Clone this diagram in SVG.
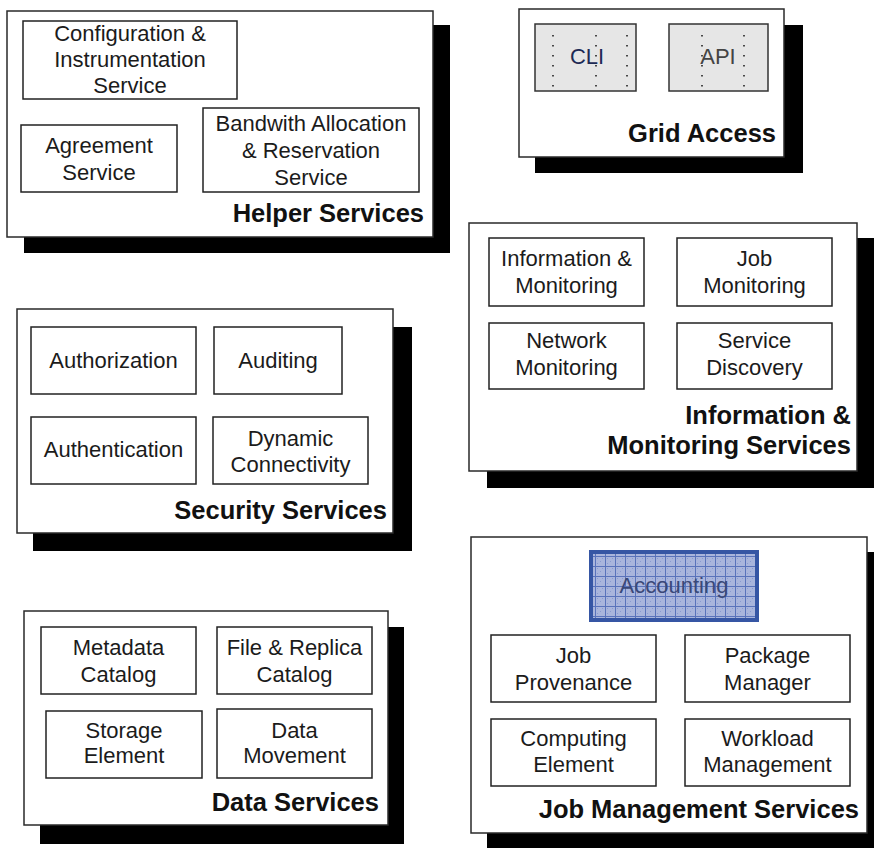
<svg xmlns="http://www.w3.org/2000/svg" width="874" height="848" viewBox="0 0 874 848">
<defs>
<pattern id="grid" width="10" height="10" patternUnits="userSpaceOnUse" x="595" y="556">
<rect width="10" height="10" fill="#a9b5dc"/>
<rect x="2" y="2" width="1" height="1" fill="#8a9bd0"/>
<rect x="5" y="5" width="1" height="1" fill="#8a9bd0"/>
<rect x="2" y="7" width="1" height="1" fill="#8a9bd0"/>
<rect x="7" y="2" width="1" height="1" fill="#8a9bd0"/>
<path d="M0 0.5H10M0.5 0V10" stroke="#5a73bb" stroke-width="1" fill="none"/>
</pattern>
</defs>
<style>
.shadow{fill:#000}
.outer{fill:#fff;stroke:#2a2a2a;stroke-width:1.5}
.box{fill:#fff;stroke:#222;stroke-width:1.5}
.gbox{fill:#e6e6e6;stroke:#333;stroke-width:1.5}
.dots{stroke:#222;stroke-width:1.6;stroke-dasharray:1.6 8.4;fill:none}
.t{font-family:"Liberation Sans",Arial,sans-serif;font-size:22px;fill:#1b1b1b;text-anchor:middle}
.title{font-family:"Liberation Sans",Arial,sans-serif;font-size:25.5px;font-weight:bold;fill:#111;text-anchor:end}
</style>
<rect width="874" height="848" fill="#fff"/>

<g id="helper-services">
<rect class="shadow" x="24" y="25" width="426" height="228"/>
<rect class="outer" x="7" y="11" width="426" height="226"/>
<g id="config-instrumentation"><rect class="box" x="23" y="21" width="214" height="78"/>
<text class="t" x="130" y="41">Configuration &amp;</text><text class="t" x="130" y="67">Instrumentation</text><text class="t" x="130" y="93">Service</text></g>
<g id="agreement"><rect class="box" x="21" y="125" width="156" height="67"/>
<text class="t" x="99" y="153">Agreement</text><text class="t" x="99" y="180">Service</text></g>
<g id="bandwith"><rect class="box" x="203" y="108" width="216" height="84"/>
<text class="t" x="311" y="131">Bandwith Allocation</text><text class="t" x="311" y="158">&amp; Reservation</text><text class="t" x="311" y="185">Service</text></g>
<text class="title" x="424" y="222">Helper Services</text>
</g>

<g id="grid-access">
<rect class="shadow" x="535" y="25" width="268" height="148"/>
<rect class="outer" x="519" y="9" width="265" height="148"/>
<g id="cli"><rect class="gbox" x="535" y="24" width="101" height="67"/>
<path class="dots" d="M553 35V91M596 35V91M627 35V91"/>
<text class="t" x="587" y="64" fill="#1d2a55" style="fill:#1d2a55">CLI</text></g>
<g id="api"><rect class="gbox" x="669" y="24" width="99" height="67"/>
<path class="dots" d="M702 35V91M744 35V91"/>
<text class="t" x="718" y="64" style="fill:#444">API</text></g>
<text class="title" x="776" y="142">Grid Access</text>
</g>

<g id="information-monitoring-services">
<rect class="shadow" x="487" y="238" width="390" height="250"/>
<rect class="outer" x="469" y="223" width="388" height="248"/>
<g id="info-monitoring"><rect class="box" x="489" y="238" width="155" height="68"/>
<text class="t" x="566.5" y="266">Information &amp;</text><text class="t" x="566.5" y="293">Monitoring</text></g>
<g id="job-monitoring"><rect class="box" x="677" y="238" width="155" height="68"/>
<text class="t" x="754.5" y="266">Job</text><text class="t" x="754.5" y="293">Monitoring</text></g>
<g id="network-monitoring"><rect class="box" x="489" y="323" width="155" height="66"/>
<text class="t" x="566.5" y="348">Network</text><text class="t" x="566.5" y="375">Monitoring</text></g>
<g id="service-discovery"><rect class="box" x="677" y="323" width="155" height="66"/>
<text class="t" x="754.5" y="348">Service</text><text class="t" x="754.5" y="375">Discovery</text></g>
<text class="title" x="851" y="424">Information &amp;</text>
<text class="title" x="851" y="454">Monitoring Services</text>
</g>

<g id="security-services">
<rect class="shadow" x="33" y="327" width="379" height="224"/>
<rect class="outer" x="17" y="309" width="376" height="224"/>
<g id="authorization"><rect class="box" x="31" y="327" width="165" height="67"/>
<text class="t" x="113.5" y="368">Authorization</text></g>
<g id="auditing"><rect class="box" x="214" y="327" width="128" height="67"/>
<text class="t" x="278" y="368">Auditing</text></g>
<g id="authentication"><rect class="box" x="31" y="417" width="165" height="67"/>
<text class="t" x="113.5" y="457">Authentication</text></g>
<g id="dynamic-connectivity"><rect class="box" x="213" y="417" width="155" height="67"/>
<text class="t" x="290.5" y="446">Dynamic</text><text class="t" x="290.5" y="472">Connectivity</text></g>
<text class="title" x="387" y="519">Security Services</text>
</g>

<g id="data-services">
<rect class="shadow" x="40" y="627" width="364" height="217"/>
<rect class="outer" x="24" y="611" width="364" height="214"/>
<g id="metadata-catalog"><rect class="box" x="41" y="627" width="155" height="67"/>
<text class="t" x="118.5" y="655">Metadata</text><text class="t" x="118.5" y="682">Catalog</text></g>
<g id="file-replica-catalog"><rect class="box" x="217" y="627" width="155" height="67"/>
<text class="t" x="294.5" y="655">File &amp; Replica</text><text class="t" x="294.5" y="682">Catalog</text></g>
<g id="storage-element"><rect class="box" x="46" y="711" width="156" height="67"/>
<text class="t" x="124" y="738">Storage</text><text class="t" x="124" y="763">Element</text></g>
<g id="data-movement"><rect class="box" x="217" y="709" width="155" height="69"/>
<text class="t" x="294.5" y="738">Data</text><text class="t" x="294.5" y="763">Movement</text></g>
<text class="title" x="379" y="811">Data Services</text>
</g>

<g id="job-management-services">
<rect class="shadow" x="487" y="552" width="392" height="300"/>
<rect class="outer" x="471" y="537" width="396" height="296"/>
<g id="accounting">
<rect x="592" y="553" width="166" height="68" fill="#111"/>
<rect x="591" y="552" width="166" height="68" fill="url(#grid)" stroke="#3656a4" stroke-width="4"/>
<text class="t" x="674" y="593" style="fill:#3a4878">Accounting</text></g>
<g id="job-provenance"><rect class="box" x="491" y="635" width="165" height="67"/>
<text class="t" x="573.5" y="663">Job</text><text class="t" x="573.5" y="690">Provenance</text></g>
<g id="package-manager"><rect class="box" x="685" y="635" width="165" height="67"/>
<text class="t" x="767.5" y="663">Package</text><text class="t" x="767.5" y="690">Manager</text></g>
<g id="computing-element"><rect class="box" x="491" y="719" width="165" height="67"/>
<text class="t" x="573.5" y="746">Computing</text><text class="t" x="573.5" y="772">Element</text></g>
<g id="workload-management"><rect class="box" x="685" y="719" width="165" height="67"/>
<text class="t" x="767.5" y="746">Workload</text><text class="t" x="767.5" y="772">Management</text></g>
<text class="title" x="859" y="818">Job Management Services</text>
</g>
</svg>
